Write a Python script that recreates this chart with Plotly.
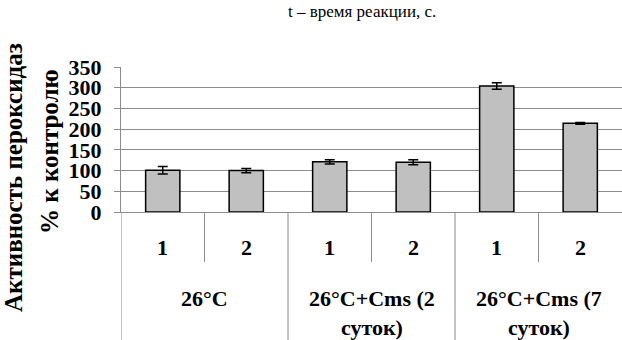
import plotly.graph_objects as go

groups = ["26°C", "26°C+Cms (2<br>суток)", "26°C+Cms (7<br>суток)"]
subcats = ["1", "2"]
values = [101, 100, 121, 120, 304, 214]
errors = [9, 5, 5, 6, 8, 2]
yticks = [0, 50, 100, 150, 200, 250, 300, 350]

FONT = "Liberation Serif"
GRID = "#8c8c8c"

xs = list(range(len(values)))
fig = go.Figure()
fig.add_trace(go.Bar(
    x=xs, y=values, width=0.41,
    marker=dict(color="#c0c0c0", line=dict(color="#000000", width=1.5)),
    error_y=dict(type="data", array=errors, visible=True, color="#000000",
                 thickness=1.5, width=5),
))

H = 145.0
def py(p):
    return (212 - p) / H

annotations = []
shapes = []
for gi, g in enumerate(groups):
    for si, s in enumerate(subcats):
        xi = gi * len(subcats) + si
        annotations.append(dict(x=xi, y=py(247), xref="x", yref="paper", text="<b>" + s + "</b>",
                                showarrow=False, yanchor="middle",
                                font=dict(family=FONT, size=22, color="#000")))
    cx = gi * len(subcats) + (len(subcats) - 1) / 2
    annotations.append(dict(x=cx, y=py(284), xref="x", yref="paper",
                            text="<b>" + g.replace("<br>", "</b><br><b>") + "</b>",
                            showarrow=False, yanchor="top", align="center",
                            font=dict(family=FONT, size=22, color="#000")))
    shapes.append(dict(type="line", xref="x", yref="paper", x0=cx, x1=cx,
                       y0=0, y1=py(262), line=dict(color=GRID, width=1)))
    xl = gi * len(subcats) - 0.5
    shapes.append(dict(type="line", xref="x", yref="paper", x0=xl, x1=xl,
                       y0=0, y1=py(345), line=dict(color=GRID, width=1)))

extra = [
    dict(x=13, y=178, text="<b>Активность пероксидаз</b>", textangle=-90, size=25),
    dict(x=49, y=152, text="<b>% к контролю</b>", textangle=-90, size=25),
    dict(x=362, y=12, text="t – время реакции, с.", textangle=0, size=17),
]
for e in extra:
    annotations.append(dict(x=(e["x"] - 121) / 501.0, y=py(e["y"]), xref="paper", yref="paper",
                            text=e["text"], showarrow=False, textangle=e["textangle"],
                            xanchor="center", yanchor="middle",
                            font=dict(family=FONT, size=e["size"], color="#000")))

fig.update_layout(
    width=622, height=340,
    margin=dict(l=121, r=0, t=67, b=128),
    paper_bgcolor="white", plot_bgcolor="white",
    showlegend=False,
    annotations=annotations, shapes=shapes,
    xaxis=dict(range=[-0.5, 5.5], showticklabels=False, showgrid=False,
               zeroline=False, showline=True, linecolor=GRID, linewidth=1, ticks=""),
    yaxis=dict(range=[0, 350], tickvals=yticks, ticktext=["<b>%d</b>" % v for v in yticks],
               showgrid=True, gridcolor=GRID,
               gridwidth=1, zeroline=False, showline=True, linecolor=GRID,
               linewidth=1, ticks="outside", ticklen=6, tickcolor=GRID,
               ticklabelstandoff=8,
               tickfont=dict(family=FONT, size=22, color="#000")),
)

fig.write_html("out.html", config={"displayModeBar": False},
               post_script="document.body.style.margin='0';document.body.style.padding='0';")
